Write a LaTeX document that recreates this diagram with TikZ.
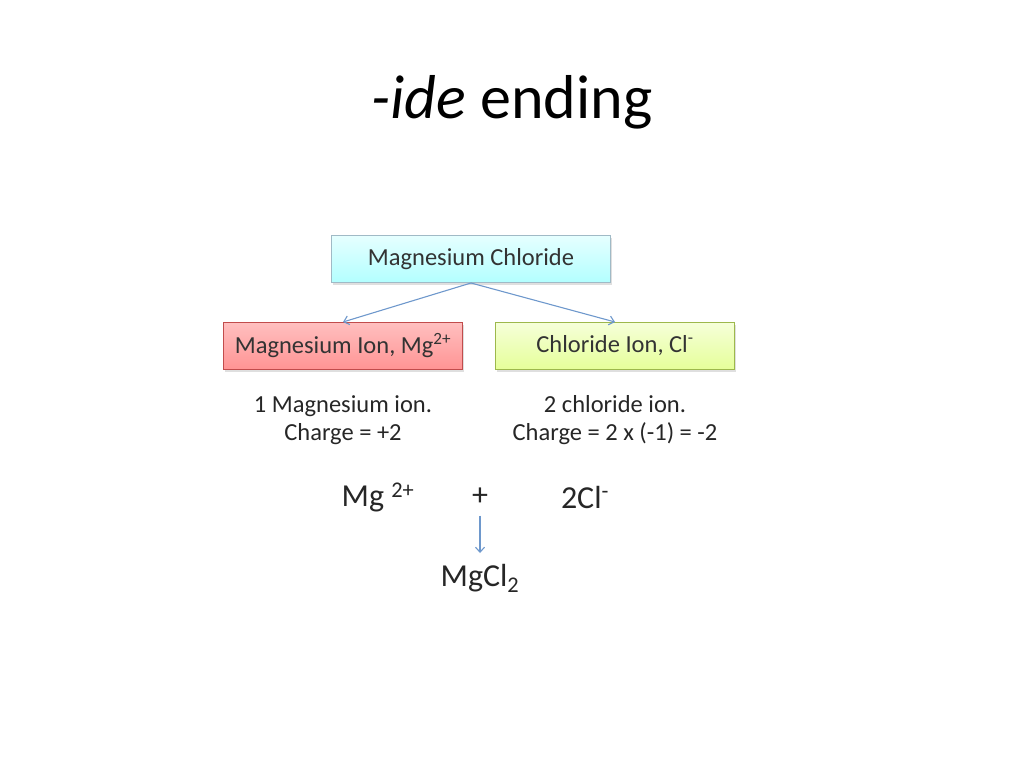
\documentclass[tikz,border=0pt]{standalone}
\usepackage{fontspec}
\setmainfont{Carlito}
\usepackage{tikz}
\usetikzlibrary{positioning, arrows.meta, shadows}
\definecolor{linkblue}{HTML}{6E98CC}
\begin{document}
\begin{tikzpicture}[x=1pt, y=-1pt, -{Straight Barb[length=5pt, width=9pt]}, draw=linkblue, line width=1.1pt]
	\tikzstyle{box}=[draw, line width=1pt, minimum width=279pt, minimum height=47pt, inner sep=0pt, font=\fontsize{24.5}{28}\selectfont, text=black!80, drop shadow={opacity=0.25, shadow xshift=1.5pt, shadow yshift=-2pt}]
	\tikzstyle{parent box}=[box, draw=cyan!45!black!45, top color=cyan!10, bottom color=cyan!30]
	\tikzstyle{mg box}=[box, minimum width=239pt, draw=red!65!black!70, top color=red!25, bottom color=red!42]
	\tikzstyle{cl box}=[box, minimum width=239pt, draw=lime!60!black!70, top color=lime!15, bottom color=lime!40]
	\tikzstyle{note}=[align=center, font=\fontsize{24.5}{28}\selectfont, text=black!85]
	\tikzstyle{formula}=[font=\fontsize{32}{36}\selectfont, text=black!85]

	\useasboundingbox (0,0) rectangle (1024,768);

	% Title
	\node[font=\fontsize{62}{70}\selectfont, text=black] (title) at (512,102) {\textit{-ide} ending};

	% Boxes
	\node[parent box] (MgCl) at (471,259) {Magnesium Chloride};
	\node[mg box] (MgIon) at (343,346) {Magnesium Ion, Mg\textsuperscript{2+}};
	\node[cl box] (ClIon) at (615,346) {Chloride Ion, Cl\textsuperscript{-}};

	% Edges
	\foreach \dest in {MgIon,ClIon}
	\draw (MgCl.south) -- (\dest.north);

	% Charges
	\node[note] (MgNote) at (343,420) {1 Magnesium ion.\\Charge = +2};
	\node[note] (ClNote) at (615,420) {2 chloride ion.\\Charge = 2 x (-1) = -2};

	% Reaction
	\node[formula] (Mg) at (378,497) {Mg \textsuperscript{2+}};
	\node[formula] (plus) at (480,497) {+};
	\node[formula] (Cl) at (585,497) {2Cl\textsuperscript{-}};
	\node[formula] (prod) at (480,578) {MgCl\textsubscript{2}};
	\draw[shorten <=6pt, shorten >=7pt] (plus) -- (prod);
\end{tikzpicture}
\end{document}
